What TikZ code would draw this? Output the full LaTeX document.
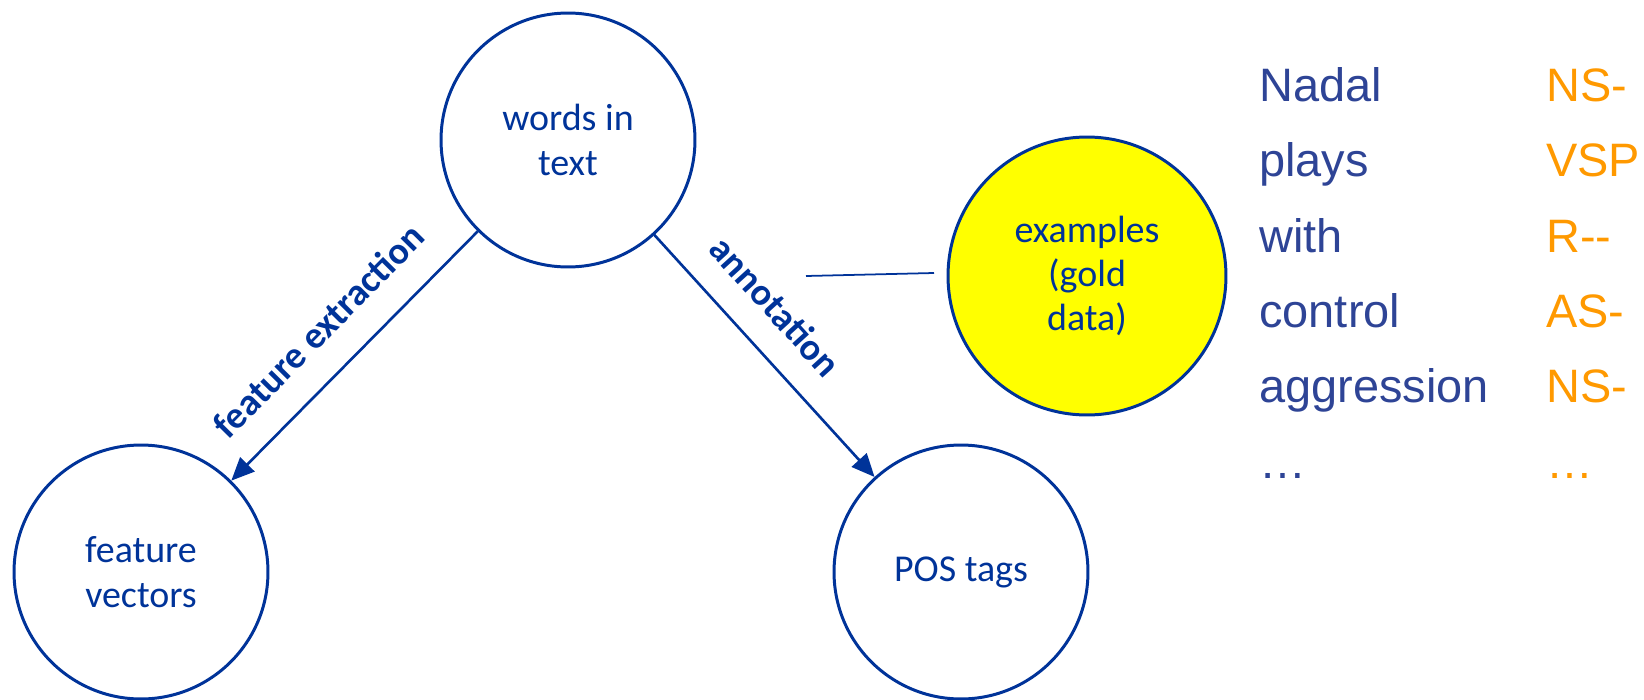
\documentclass[tikz,border=0pt]{standalone}
\usepackage{fontspec}
\setmainfont{Carlito}
\newfontfamily\arialfont{Liberation Sans}
\usetikzlibrary{arrows.meta}
\definecolor{nodeblue}{RGB}{0,51,153}
\definecolor{wordblue}{RGB}{46,68,150}
\definecolor{tagorange}{RGB}{255,153,0}
\definecolor{goldfill}{RGB}{255,255,0}
\begin{document}
\begin{tikzpicture}[x=0.02cm,y=-0.02cm,
  stagecircle/.style={circle, draw=nodeblue, line width=1.7pt, minimum size=5.08cm,
    inner sep=0pt, align=center, text=nodeblue, font=\fontsize{21.6}{25.3}\selectfont},
  flow/.style={draw=nodeblue, line width=1.5pt, -{Triangle[length=0.46cm,width=0.4cm]}},
  flowlabel/.style={sloped, text=nodeblue, font=\bfseries\fontsize{21.6}{25}\selectfont},
  word/.style={anchor=base west, inner sep=0pt, text=wordblue,
    font=\arialfont\fontsize{26.7}{30}\selectfont},
  tag/.style={word, text=tagorange}]
\useasboundingbox (0,0) rectangle (1644,700);

% the four stages
\node[stagecircle] (words) at (568,140) {words in\\text};
\node[stagecircle] (features) at (141,572) {feature\\vectors};
\node[stagecircle] (pos) at (961,572) {POS tags};
\node[stagecircle, fill=goldfill, minimum size=5.56cm] (gold) at (1087,276) {examples\\(gold\\data)};

% processing steps
\draw[flow] (words) -- node[flowlabel, above=13pt, pos=0.52] {feature extraction} (features);
\draw[flow] (words) -- node[flowlabel, above=12pt, pos=0.41] {annotation} (pos);

% pointer towards the gold data
\coordinate (linkA) at (806,276);
\coordinate (linkB) at (934,273);
\draw[nodeblue, line width=1pt] (linkA) -- (linkB);

% example sentence with its tags
\node[word] (w1) at (1259,101) {Nadal};
\node[word] (w2) at (1259,176) {plays};
\node[word] (w3) at (1259,252) {with};
\node[word] (w4) at (1259,327) {control};
\node[word] (w5) at (1259,402) {aggression};
\node[word] (w6) at (1259,478) {…};
\node[tag] (t1) at (1546,101) {NS-};
\node[tag] (t2) at (1546,176) {VSP};
\node[tag] (t3) at (1546,252) {R--};
\node[tag] (t4) at (1546,327) {AS-};
\node[tag] (t5) at (1546,402) {NS-};
\node[tag] (t6) at (1546,478) {…};
\end{tikzpicture}
\end{document}
